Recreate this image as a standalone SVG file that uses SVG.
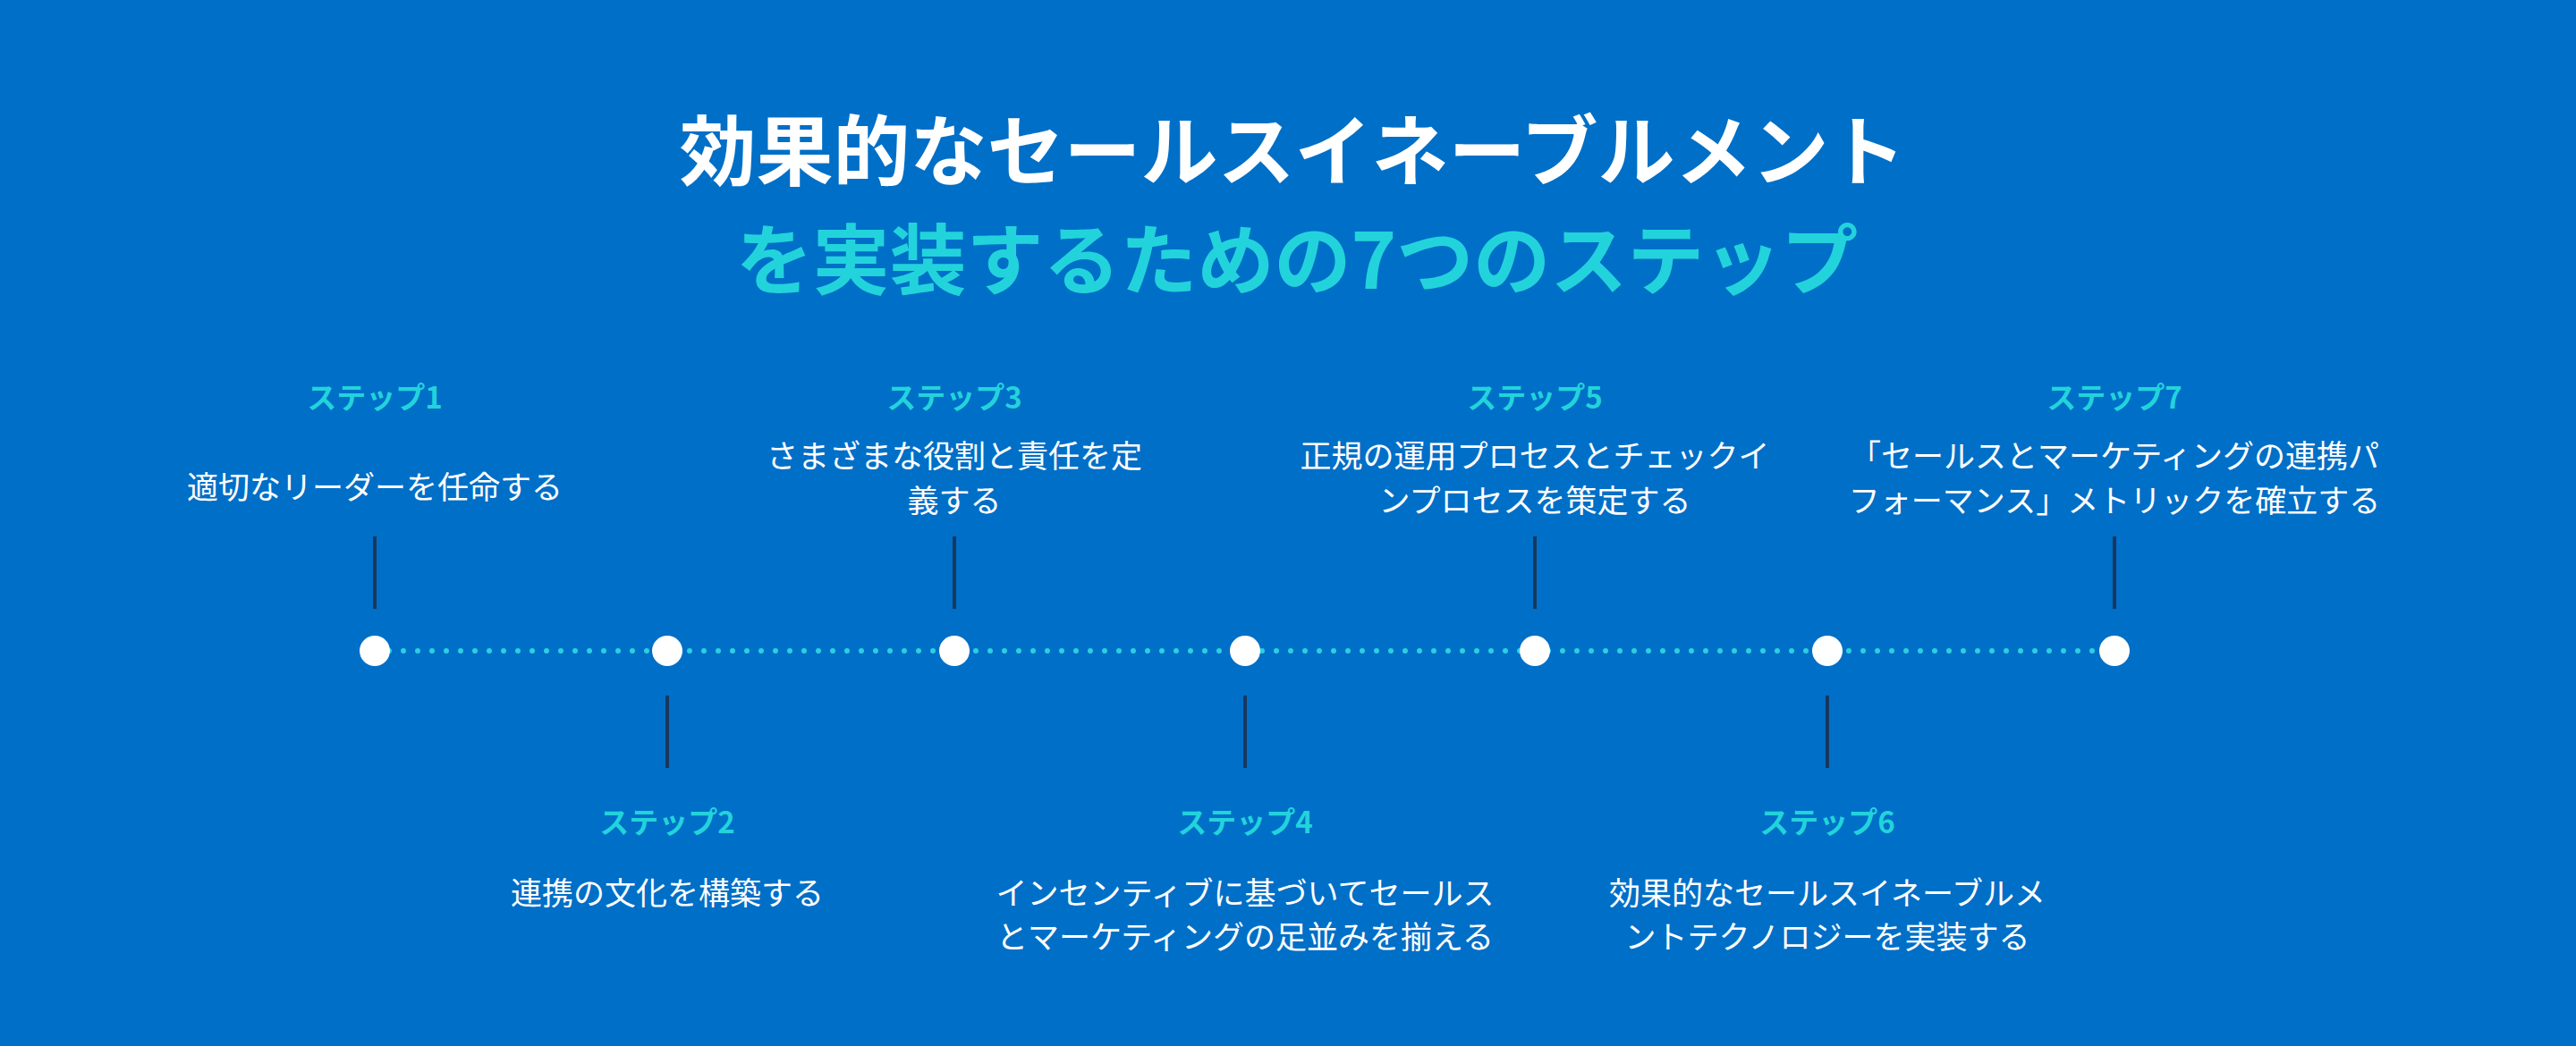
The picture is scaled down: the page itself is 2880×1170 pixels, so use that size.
<svg xmlns="http://www.w3.org/2000/svg" width="2880" height="1170" viewBox="0 0 2880 1170">
<style>
text{font-family:"Noto Sans CJK JP","Noto Sans",sans-serif;text-anchor:middle;dominant-baseline:central}
.t1{fill:#fff;font-size:86px;font-weight:700}
.t2{fill:#22d3dc;font-size:86px;font-weight:700}
.lab{fill:#22d3dc;font-size:33px;font-weight:700}
.desc{fill:#fff;font-size:35px}
.tick{stroke:#17375f;stroke-width:4}
.dot{fill:#fff}
</style>
<rect width="2880" height="1170" fill="#006fc7"/>
<text class="t1" x="1445" y="163">効果的なセールスイネーブルメント</text>
<text class="t2" x="1450" y="285">を実装するための7つのステップ</text>
<g id="connectors">
<line x1="419" y1="728" x2="2364" y2="728" stroke="#2ad0e0" stroke-width="6" stroke-linecap="round" stroke-dasharray="0 16"/>
<line class="tick" x1="419" y1="600" x2="419" y2="681"/>
<line class="tick" x1="746" y1="778" x2="746" y2="859"/>
<line class="tick" x1="1067" y1="600" x2="1067" y2="681"/>
<line class="tick" x1="1392" y1="778" x2="1392" y2="859"/>
<line class="tick" x1="1716" y1="600" x2="1716" y2="681"/>
<line class="tick" x1="2043" y1="778" x2="2043" y2="859"/>
<line class="tick" x1="2364" y1="600" x2="2364" y2="681"/>
</g>
<g id="step1"><circle class="dot" cx="419" cy="728" r="17"/><text class="lab" x="419" y="443">ステップ1</text><text class="desc" x="419" y="542">適切なリーダーを任命する</text></g>
<g id="step2"><circle class="dot" cx="746" cy="728" r="17"/><text class="lab" x="746" y="918">ステップ2</text><text class="desc" x="746" y="996">連携の文化を構築する</text></g>
<g id="step3"><circle class="dot" cx="1067" cy="728" r="17"/><text class="lab" x="1067" y="443">ステップ3</text><text class="desc" x="1067" y="507">さまざまな役割と責任を定</text><text class="desc" x="1067" y="557">義する</text></g>
<g id="step4"><circle class="dot" cx="1392" cy="728" r="17"/><text class="lab" x="1392" y="918">ステップ4</text><text class="desc" x="1392" y="996">インセンティブに基づいてセールス</text><text class="desc" x="1392" y="1045">とマーケティングの足並みを揃える</text></g>
<g id="step5"><circle class="dot" cx="1716" cy="728" r="17"/><text class="lab" x="1716" y="443">ステップ5</text><text class="desc" x="1716" y="507">正規の運用プロセスとチェックイ</text><text class="desc" x="1716" y="557">ンプロセスを策定する</text></g>
<g id="step6"><circle class="dot" cx="2043" cy="728" r="17"/><text class="lab" x="2043" y="918">ステップ6</text><text class="desc" x="2043" y="996">効果的なセールスイネーブルメ</text><text class="desc" x="2043" y="1045">ントテクノロジーを実装する</text></g>
<g id="step7"><circle class="dot" cx="2364" cy="728" r="17"/><text class="lab" x="2364" y="443">ステップ7</text><text class="desc" x="2364" y="507">「セールスとマーケティングの連携パ</text><text class="desc" x="2364" y="557">フォーマンス」メトリックを確立する</text></g>
</svg>
